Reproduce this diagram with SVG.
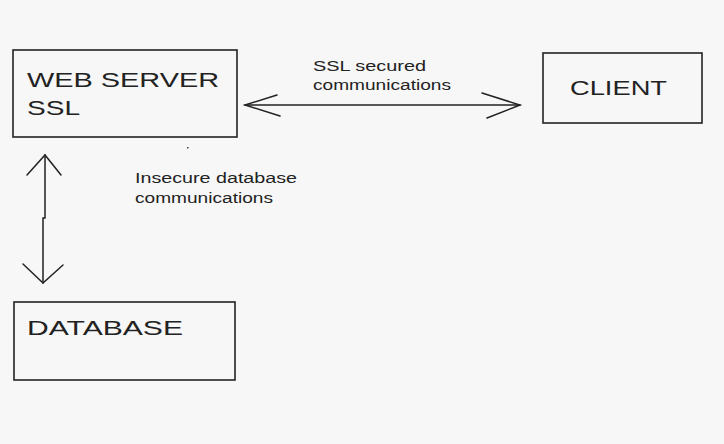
<svg xmlns="http://www.w3.org/2000/svg" width="724" height="444" viewBox="0 0 724 444">
<style>
.box{fill:none;stroke:#222;stroke-width:1.6}
.big{font-family:"Liberation Sans",Arial,sans-serif;font-size:21px;fill:#222}
.small{font-family:"Liberation Sans",Arial,sans-serif;font-size:14px;fill:#222}
.ln{fill:none;stroke:#222;stroke-width:1.5;stroke-linecap:round}
</style>
<rect width="724" height="444" fill="#f7f7f7"/>
<g id="web-server">
<rect class="box" x="13" y="50" width="224" height="87"/>
<text class="big" x="27" y="87" textLength="192" lengthAdjust="spacingAndGlyphs">WEB SERVER</text>
<text class="big" x="27" y="115" textLength="53" lengthAdjust="spacingAndGlyphs">SSL</text>
</g>
<g id="client">
<rect class="box" x="543" y="53" width="159" height="70"/>
<text class="big" x="570" y="95" textLength="97" lengthAdjust="spacingAndGlyphs">CLIENT</text>
</g>
<g id="database">
<rect class="box" x="14" y="302" width="221" height="78"/>
<text class="big" x="27" y="335" textLength="156" lengthAdjust="spacingAndGlyphs">DATABASE</text>
</g>
<g id="connectors">
<path class="ln" d="M245 105 L520 105"/>
<path class="ln" d="M277 95 L245 105 L280 116"/>
<path class="ln" d="M482 93 L520 105 L487 118"/>
<path class="ln" d="M45 155 L45 218 L43 218 L43 283"/>
<path class="ln" d="M27 175 L45 155 L61 175"/>
<path class="ln" d="M23 264 L43 283 L63 265"/>
</g>
<g id="labels">
<text class="small" x="313" y="71" textLength="113" lengthAdjust="spacingAndGlyphs">SSL secured</text>
<text class="small" x="313" y="90" textLength="138" lengthAdjust="spacingAndGlyphs">communications</text>
<text class="small" x="135" y="183" textLength="162" lengthAdjust="spacingAndGlyphs">Insecure database</text>
<text class="small" x="135" y="203" textLength="138" lengthAdjust="spacingAndGlyphs">communications</text>
</g>
<rect x="187" y="147" width="1.5" height="1.5" fill="#444"/>
</svg>
